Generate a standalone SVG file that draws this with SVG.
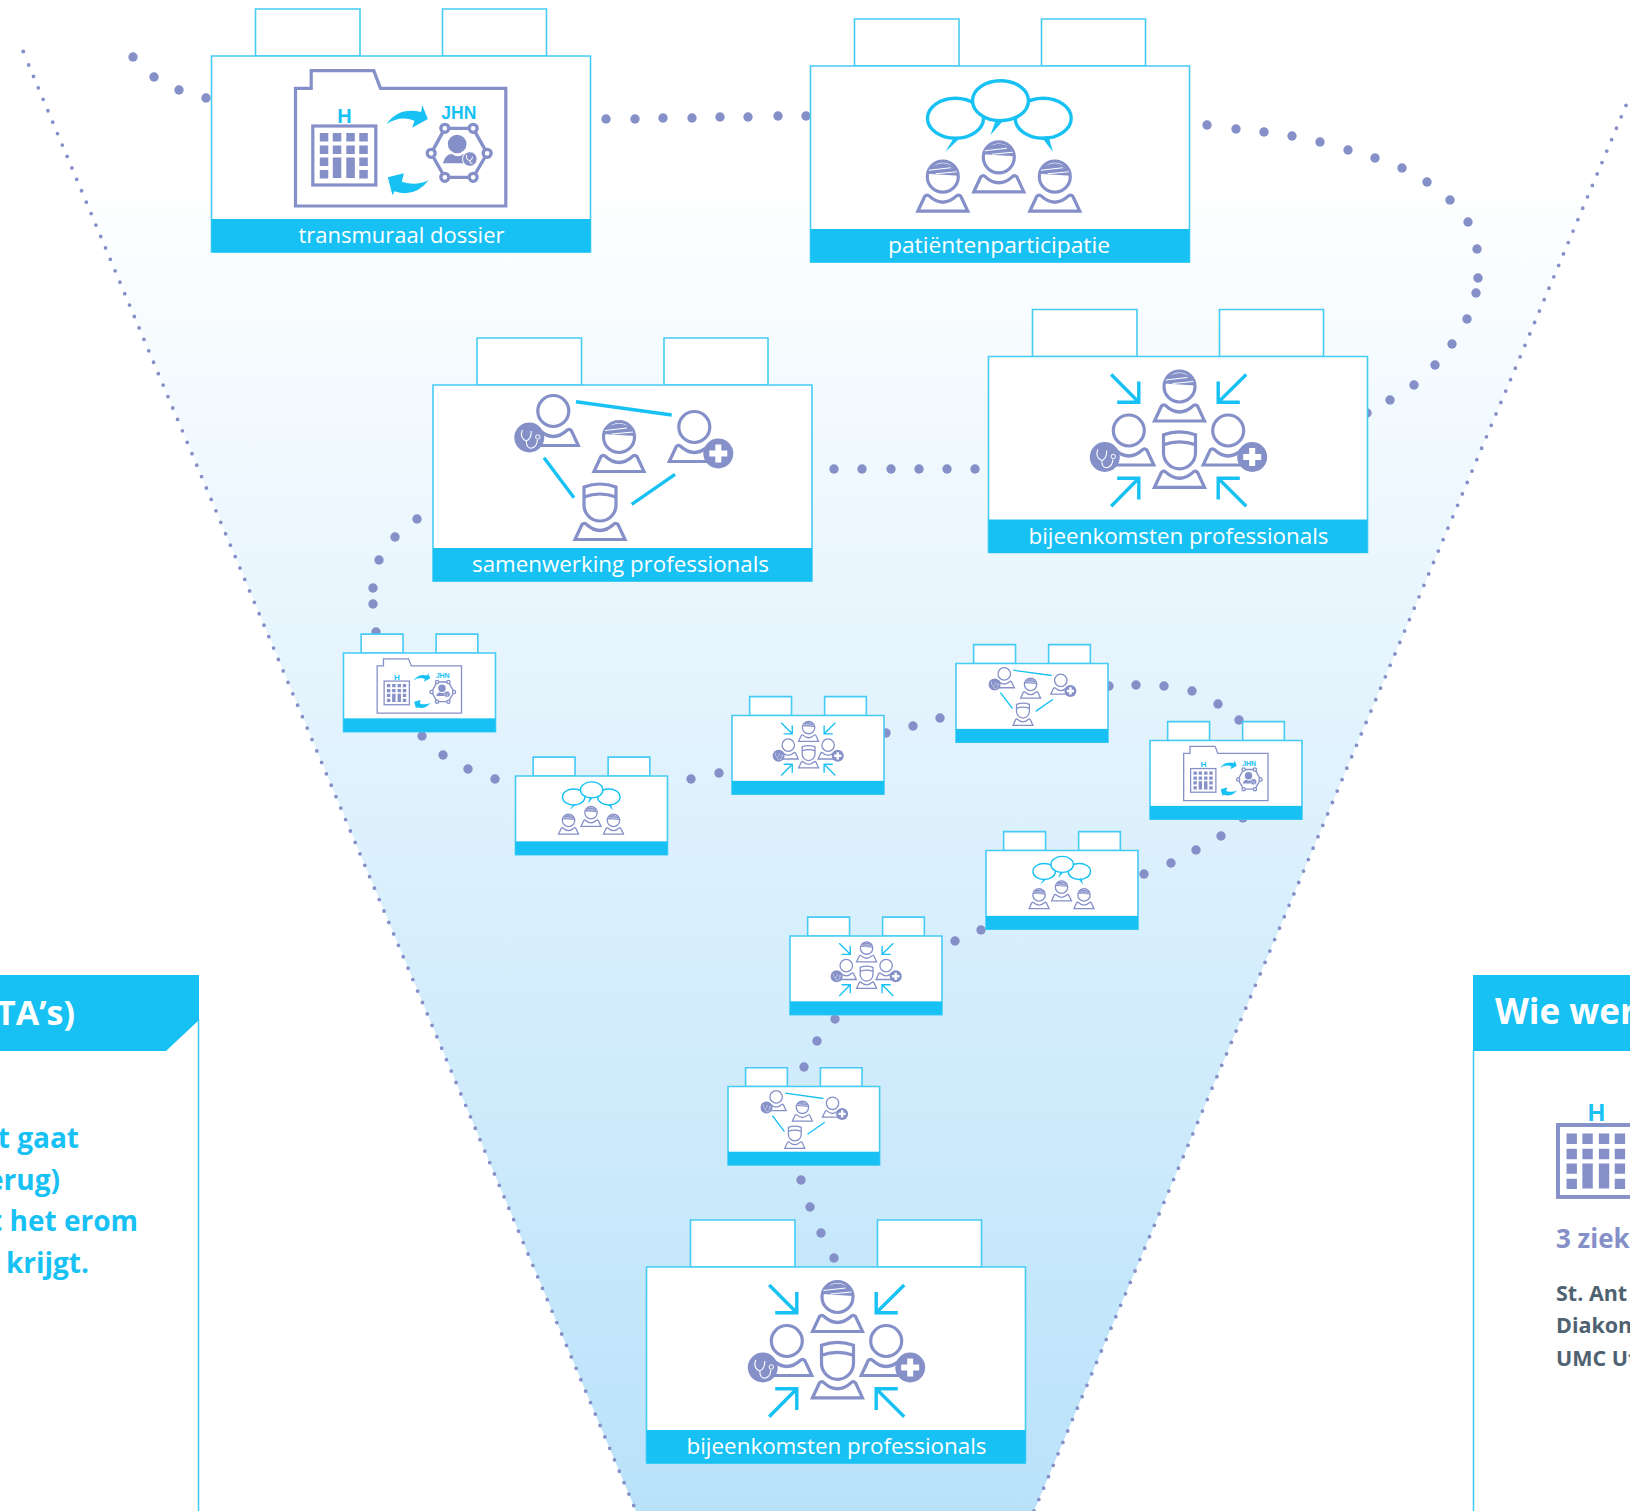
<svg xmlns="http://www.w3.org/2000/svg" xmlns:xlink="http://www.w3.org/1999/xlink" width="1630" height="1511" viewBox="0 0 1630 1511">
<style>
.f{fill:#fff;stroke:#45cbf6;stroke-width:1.6;vector-effect:non-scaling-stroke}
.bar{fill:#17c1f4}
.lab{font-family:"Open Sans","Noto Sans",sans-serif;font-size:22px;fill:#fff;text-anchor:middle}
.pu{fill:none;stroke:#8590c8;stroke-width:3.2}
.puf{fill:#8590c8}
.cy{fill:none;stroke:#17c1f4;stroke-width:3.4}
.cyf{fill:#17c1f4}
.d circle{fill:#8590c8;r:4.7px}
.bt{font-family:"Open Sans","Noto Sans",sans-serif;font-weight:700}
.hd{font-family:"Liberation Sans",Arial,sans-serif;font-weight:700;fill:#17c1f4;text-anchor:middle}
</style>
<defs>
<linearGradient id="fg" gradientUnits="userSpaceOnUse" x1="0" y1="170" x2="0" y2="1511"><stop offset="0" stop-color="#fff"/><stop offset="1" stop-color="#b9e2fa"/></linearGradient>
<g id="block">
<rect class="f" x="44" y="-47" width="104.500" height="47"/>
<rect class="f" x="231" y="-47" width="104" height="47"/>
<rect class="f" x="0" y="0" width="379" height="196"/>
<rect class="bar" x="0" y="163" width="379" height="33.500"/>
</g>
<path id="sh" class="pu" d="M-25 34.500L-18 19.500Q-16 17.500-14 19Q0 32 14 19Q16 17.500 18 19.500L25 34.500Z"/>
<g id="plain"><circle class="pu" r="15.500"/><use xlink:href="#sh"/></g>
<g id="pat"><use xlink:href="#plain"/><path class="puf" d="M-13-9Q-7-13 0-13.500Q8-13 13-8L15.500-1L-15.500-3Z"/><path fill="none" stroke="#fff" stroke-width="1.100" d="M-14-6.500L8-9M-7-3L14-5"/></g>
<g id="sur"><path class="pu" d="M-16-18Q0-24 16-18V0A16 16 0 0 1-16 0ZM-16-8Q0-14 16-8"/><use xlink:href="#sh"/></g>
<g id="doc"><use xlink:href="#plain"/><circle class="puf" cx="-24" cy="26.500" r="15"/><path fill="none" stroke="#fff" stroke-width="1.100" d="M-31 19Q-34 27-27 30Q-22 28-22 20M-27 30Q-27 38-21 37Q-16 35-16 29"/><circle cx="-15.500" cy="26" r="2.200" fill="none" stroke="#fff" stroke-width="1"/></g>
<g id="plus"><use xlink:href="#plain"/><circle class="puf" cx="24" cy="26.500" r="15"/><path fill="#fff" d="M21 17.500h6v6h6v6h-6v6h-6v-6h-6v-6h6z"/></g>
<g id="bld">
<rect class="pu" x="0" y="0" width="63" height="59"/>
<path class="puf" d="M7 7h8.500v8.500H7zM20 7h8.500v8.500H20zM33.500 7H42v8.500h-8.500zM46.500 7H55v8.500h-8.500zM7 19.500h8.500V28H7zM20 19.500h8.500V28H20zM33.500 19.500H42V28h-8.500zM46.500 19.500H55V28h-8.500zM7 31.500h8.500V40H7zM20 31.500h8.500V52H20zM33.500 31.500H42V52h-8.500zM46.500 31.500H55V40h-8.500zM7 44h8.500v8.500H7zM46.500 44H55v8.500h-8.500z"/>
</g>
<g id="ic-dos">
<path class="pu" d="M84 32.300H99.700V14.700H162.300L169 32.300H294.300V150H84Z"/>
<text class="hd" x="133" y="66.500" font-size="20">H</text>
<text class="hd" x="247.300" y="63" font-size="17.500">JHN</text>
<use xlink:href="#bld" x="101.300" y="70"/>
<g transform="translate(-21 -56) scale(.33333)">
<path class="cyf" d="M588 372Q625 320 692 336L695 315L712 357L665 383L672 362Q630 345 588 372Z"/>
<path class="cyf" d="M715 540Q672 595 612 574L606 586L592 532L640 520L634 545Q676 560 715 540Z"/>
<path fill="none" stroke="#8590c8" stroke-width="10" d="M763 385H848L890 460L848 532H763L722 460Z"/>
<g fill="#fff" stroke="#8590c8" stroke-width="10"><circle cx="763" cy="385" r="12"/><circle cx="848" cy="385" r="12"/><circle cx="890" cy="460" r="12"/><circle cx="848" cy="532" r="12"/><circle cx="763" cy="532" r="12"/><circle cx="722" cy="460" r="12"/></g>
<circle class="puf" cx="800" cy="432" r="28"/>
<path class="puf" d="M757 490Q765 462 785 462Q800 475 820 462L835 490Z"/>
<circle class="puf" cx="838" cy="477" r="22" stroke="#fff" stroke-width="3"/>
<path fill="none" stroke="#fff" stroke-width="3" d="M828 465Q826 480 838 482Q846 480 846 470M838 482Q838 492 846 490"/>
</g>
</g>
<g id="ic-pat">
<ellipse class="cy" cx="145" cy="52.300" rx="28" ry="20" style="fill:#fff"/>
<ellipse class="cy" cx="232.700" cy="52.300" rx="28" ry="20" style="fill:#fff"/>
<ellipse class="cy" cx="190" cy="34.700" rx="28" ry="20" style="fill:#fff"/>
<path class="cyf" d="M143.500 71.500L135 85.700L148.500 73ZM185.500 53.500L180 69L192.800 54.500ZM231 71L242.300 85.700L238 70Z"/>
<use xlink:href="#pat" x="132.300" y="110.700"/>
<use xlink:href="#pat" x="188.300" y="91.300"/>
<use xlink:href="#pat" x="244.300" y="110.700"/>
</g>
<g id="ic-sam">
<path class="cy" d="M143 16.700L238.700 30M111 72.700L141 112.700M242 89.300L198.700 119.300"/>
<use xlink:href="#doc" x="120.300" y="26"/>
<use xlink:href="#pat" x="186" y="52"/>
<use xlink:href="#plus" x="261.300" y="42"/>
<use xlink:href="#sur" x="167" y="120"/>
</g>
<g id="ic-bij">
<path class="cy" d="M122.700 18L150.300 45.700M128.700 45.700H150.300V25M257.700 18L229.700 45.700M251.300 45.700H229.700V25M122.700 149.700L150.300 121.700M128.700 121.700H150.300V143M257.700 149.700L229.700 121.700M251.300 121.700H229.700V143"/>
<use xlink:href="#pat" x="191" y="30"/>
<use xlink:href="#doc" x="140.300" y="74"/>
<use xlink:href="#plus" x="239.700" y="74"/>
<use xlink:href="#sur" x="191" y="96.300"/>
</g>
</defs>

<g id="funnel">
<polygon points="23,50 636,1511 1034,1511 1630,96" fill="url(#fg)"/>
<circle cx="23.300" cy="51.500" r="2" fill="#8590c8"/>
<path d="M28.700 65L636 1511M1034 1511L1630 96" fill="none" stroke="#8590c8" stroke-width="3.800" stroke-linecap="round" stroke-dasharray="0 12.400"/>
</g>

<g id="connectors" class="d">
<circle cx="133" cy="57"/><circle cx="154" cy="77"/><circle cx="179" cy="90"/><circle cx="206" cy="98"/>
<circle cx="606" cy="119"/><circle cx="635" cy="119"/><circle cx="663" cy="118"/><circle cx="692" cy="118"/><circle cx="720" cy="117"/><circle cx="748" cy="117"/><circle cx="778" cy="116"/><circle cx="806" cy="116"/>
<circle cx="1207" cy="125"/><circle cx="1236" cy="129"/><circle cx="1264" cy="132"/><circle cx="1292" cy="136"/><circle cx="1320" cy="142"/><circle cx="1348" cy="150"/><circle cx="1375" cy="158"/><circle cx="1402" cy="168"/><circle cx="1427" cy="182"/><circle cx="1450" cy="200"/><circle cx="1468" cy="222"/><circle cx="1477" cy="249"/><circle cx="1478" cy="278"/><circle cx="1476" cy="293"/><circle cx="1467" cy="319"/><circle cx="1452" cy="344"/><circle cx="1435" cy="365"/><circle cx="1414" cy="385"/><circle cx="1390" cy="400"/><circle cx="1367" cy="413"/>
<circle cx="834" cy="469"/><circle cx="862" cy="469"/><circle cx="891" cy="469"/><circle cx="919" cy="469"/><circle cx="947" cy="469"/><circle cx="975" cy="469"/>
<circle cx="417" cy="519"/><circle cx="395" cy="537"/><circle cx="379" cy="560"/><circle cx="373" cy="588"/><circle cx="373" cy="604"/><circle cx="376" cy="632"/>
<circle cx="422" cy="736"/><circle cx="443" cy="755"/><circle cx="468" cy="769"/><circle cx="495" cy="779"/>
<circle cx="691" cy="779"/><circle cx="719" cy="773"/>
<circle cx="886" cy="733"/><circle cx="913" cy="726"/><circle cx="940" cy="718"/>
<circle cx="1109" cy="686"/><circle cx="1136" cy="685"/><circle cx="1164" cy="686"/><circle cx="1192" cy="691"/><circle cx="1218" cy="704"/><circle cx="1239" cy="720"/>
<circle cx="1243" cy="818"/><circle cx="1221" cy="836"/><circle cx="1196" cy="850"/><circle cx="1171" cy="863"/><circle cx="1144" cy="874"/>
<circle cx="981" cy="930"/><circle cx="955" cy="941"/>
<circle cx="835" cy="1019"/><circle cx="817" cy="1041"/><circle cx="804" cy="1067"/>
<circle cx="801" cy="1180"/><circle cx="810" cy="1207"/><circle cx="821" cy="1233"/><circle cx="834" cy="1258"/>
</g>

<g id="node-transmuraal" transform="translate(211.500 56)"><use xlink:href="#block"/><use xlink:href="#ic-dos"/><text class="lab" x="190" y="187" textLength="206" lengthAdjust="spacingAndGlyphs">transmuraal dossier</text></g>
<g id="node-patient" transform="translate(810.500 66)"><use xlink:href="#block"/><use xlink:href="#ic-pat"/><text class="lab" x="188.500" y="187" textLength="222" lengthAdjust="spacingAndGlyphs">patiëntenparticipatie</text></g>
<g id="node-samenwerking" transform="translate(433 385)"><use xlink:href="#block"/><use xlink:href="#ic-sam"/><text class="lab" x="187.500" y="187" textLength="297" lengthAdjust="spacingAndGlyphs">samenwerking professionals</text></g>
<g id="node-bijeenkomsten" transform="translate(988.500 356.500)"><use xlink:href="#block"/><use xlink:href="#ic-bij"/><text class="lab" x="190" y="187" textLength="300" lengthAdjust="spacingAndGlyphs">bijeenkomsten professionals</text></g>
<g id="node-bijeenkomsten-end" transform="translate(646.500 1267)"><use xlink:href="#block"/><use xlink:href="#ic-bij"/><text class="lab" x="190" y="187" textLength="300" lengthAdjust="spacingAndGlyphs">bijeenkomsten professionals</text></g>

<g id="small-1" transform="translate(343.500 653) scale(.401)"><use xlink:href="#block"/><use xlink:href="#ic-dos"/></g>
<g id="small-2" transform="translate(515.500 776) scale(.401)"><use xlink:href="#block"/><use xlink:href="#ic-pat"/></g>
<g id="small-3" transform="translate(732 715.500) scale(.401)"><use xlink:href="#block"/><use xlink:href="#ic-bij"/></g>
<g id="small-4" transform="translate(956 663.500) scale(.401)"><use xlink:href="#block"/><use xlink:href="#ic-sam"/></g>
<g id="small-5" transform="translate(1150 740.500) scale(.401)"><use xlink:href="#block"/><use xlink:href="#ic-dos"/></g>
<g id="small-6" transform="translate(986 850.500) scale(.401)"><use xlink:href="#block"/><use xlink:href="#ic-pat"/></g>
<g id="small-7" transform="translate(790 936) scale(.401)"><use xlink:href="#block"/><use xlink:href="#ic-bij"/></g>
<g id="small-8" transform="translate(728 1086.500) scale(.4)"><use xlink:href="#block"/><use xlink:href="#ic-sam"/></g>

<g id="panel-left">
<path d="M198.500 1019V1511" fill="none" stroke="#45cbf6" stroke-width="1.600"/>
<polygon class="bar" points="0,975 199,975 199,1020 166,1051 0,1051"/>
<text class="bt" x="75" y="1025" font-size="34" fill="#fff" text-anchor="end">TA’s)</text>
<g class="bt" font-size="28" fill="#17c1f4" text-anchor="end">
<text x="79" y="1147.500">t gaat</text>
<text x="60" y="1189.500">erug)</text>
<text x="138" y="1230.500">t het erom</text>
<text x="89" y="1272.500">krijgt.</text>
</g>
</g>
<g id="panel-right">
<path d="M1473.500 1050V1511" fill="none" stroke="#45cbf6" stroke-width="1.600"/>
<rect class="bar" x="1473" y="975" width="157" height="76"/>
<text class="bt" x="1495" y="1024" font-size="35" fill="#fff">Wie wer</text>
<text class="hd" x="1596.500" y="1120.500" font-size="24">H</text>
<use xlink:href="#bld" transform="translate(1558 1125) scale(1.220)"/>
<text class="bt" x="1556" y="1248" font-size="26" fill="#8590c8">3 ziek</text>
<g class="bt" font-size="21.500" fill="#4f6272">
<text x="1556" y="1300.500">St. Ant</text>
<text x="1556" y="1332.500">Diakon</text>
<text x="1556" y="1365.500">UMC Ut</text>
</g>
</g>
</svg>
